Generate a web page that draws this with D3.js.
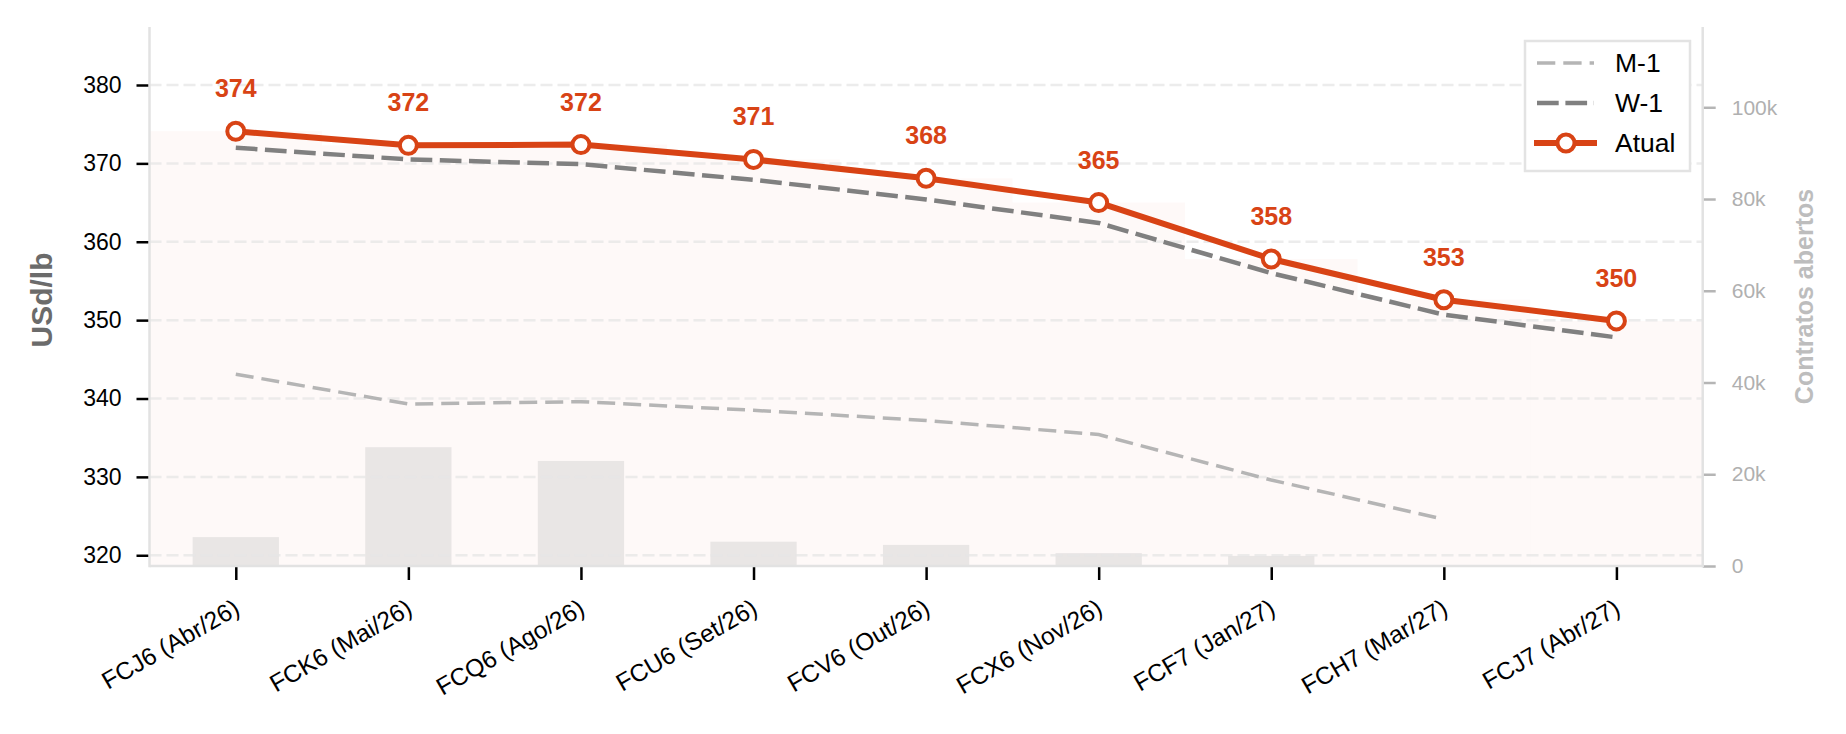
<!DOCTYPE html>
<html>
  <head>
    <meta charset="utf-8">
    <script src="https://d3js.org/d3.v7.min.js"></script>
    <style>
      body { margin: 0; background: #fff; }
      text { font-family: "Liberation Sans", Arial, sans-serif; }
    </style>
  </head>
  <body>
    <div id="chart"></div>
    <script>
      // contratos e valores
      var categories = ["FCJ6 (Abr/26)", "FCK6 (Mai/26)", "FCQ6 (Ago/26)", "FCU6 (Set/26)", "FCV6 (Out/26)",
                        "FCX6 (Nov/26)", "FCF7 (Jan/27)", "FCH7 (Mar/27)", "FCJ7 (Abr/27)"];
      var atual = [374.1, 372.3, 372.4, 370.5, 368.1, 365.0, 357.8, 352.6, 349.9];
      var w1 = [372.0, 370.5, 369.9, 367.9, 365.4, 362.4, 356.0, 350.7, 347.8];
      var m1 = [343.1, 339.3, 339.6, 338.5, 337.2, 335.4, 329.6, 324.6, null];
      var openInt = [6300, 25900, 22900, 5300, 4600, 2800, 2200, 0, 0];
      var leftTicks = [320, 330, 340, 350, 360, 370, 380];
      var rightTicks = [0, 20000, 40000, 60000, 80000, 100000];

      var width = 1846, height = 734;
      var plot = {left: 149.5, right: 1702.7, top: 27, bottom: 566};
      var orange = "#D84315";

      var svg = d3.select("#chart").append("svg")
        .attr("width", width)
        .attr("height", height);

      var x = d3.scaleLinear().domain([-0.5, categories.length - 0.5]).range([plot.left, plot.right]);
      var y = d3.scaleLinear().domain([318.63, 387.4]).range([plot.bottom, plot.top]);
      var y2 = d3.scaleLinear().domain([0, 117500]).range([plot.bottom, plot.top]);

      // faixa sombreada (degraus sob a curva atual)
      svg.append("g").selectAll("rect")
        .data(atual)
        .enter().append("rect")
          .attr("x", function(d, i) { return x(i - 0.5); })
          .attr("width", x(1) - x(0))
          .attr("y", function(d) { return y(d); })
          .attr("height", function(d) { return plot.bottom - y(d); })
          .attr("fill", orange)
          .attr("fill-opacity", 0.03);

      // barras de contratos abertos
      svg.append("g").selectAll("rect")
        .data(openInt)
        .enter().append("rect")
          .attr("x", function(d, i) { return x(i - 0.25); })
          .attr("width", (x(1) - x(0)) * 0.5)
          .attr("y", function(d) { return y2(d); })
          .attr("height", function(d) { return plot.bottom - y2(d); })
          .attr("fill", "#e9e6e5");

      // grade
      svg.append("g").selectAll("line")
        .data(leftTicks)
        .enter().append("line")
          .attr("x1", plot.left).attr("x2", plot.right)
          .attr("y1", function(d) { return y(d); })
          .attr("y2", function(d) { return y(d); })
          .attr("stroke", "#e6e6e6")
          .attr("stroke-opacity", 0.75)
          .attr("stroke-width", 2.5)
          .attr("stroke-dasharray", "12,5");

      // eixo esquerdo
      var yAxis = svg.append("g")
        .attr("transform", "translate(" + plot.left + ",0)")
        .call(d3.axisLeft(y).tickValues(leftTicks).tickSize(13).tickPadding(15));
      yAxis.select(".domain").remove();
      yAxis.selectAll(".tick line").attr("stroke", "#000").attr("stroke-width", 2.5);
      yAxis.selectAll(".tick text").attr("font-size", 23).attr("fill", "#000")
        .attr("font-family", "Liberation Sans, Arial, sans-serif");

      // eixo direito
      var y2Axis = svg.append("g")
        .attr("transform", "translate(" + plot.right + ",0)")
        .call(d3.axisRight(y2).tickValues(rightTicks).tickSize(13).tickPadding(16)
          .tickFormat(function(d) { return d === 0 ? "0" : (d / 1000) + "k"; }));
      y2Axis.select(".domain").remove();
      y2Axis.selectAll(".tick line").attr("stroke", "#b5b5b5").attr("stroke-width", 2.5);
      y2Axis.selectAll(".tick text").attr("font-size", 21).attr("fill", "#b0b0b0")
        .attr("font-family", "Liberation Sans, Arial, sans-serif");

      // eixo x
      var xAxis = svg.append("g")
        .attr("transform", "translate(0," + plot.bottom + ")")
        .call(d3.axisBottom(x).tickValues(d3.range(categories.length)).tickSize(14)
          .tickFormat(function(i) { return categories[i]; }));
      xAxis.select(".domain").remove();
      xAxis.selectAll(".tick line").attr("stroke", "#000").attr("stroke-width", 2.5);
      xAxis.selectAll(".tick text")
        .attr("font-size", 24.5).attr("fill", "#000")
        .attr("font-family", "Liberation Sans, Arial, sans-serif")
        .attr("text-anchor", "end")
        .attr("y", 0).attr("dy", 0)
        .attr("transform", "translate(5,47) rotate(-30)");

      // bordas
      var spine = "#e2e2e2";
      svg.append("line").attr("x1", plot.left).attr("x2", plot.left)
        .attr("y1", plot.top).attr("y2", plot.bottom + 1.2).attr("stroke", spine).attr("stroke-width", 2.5);
      svg.append("line").attr("x1", plot.right).attr("x2", plot.right)
        .attr("y1", plot.top).attr("y2", plot.bottom + 1.2).attr("stroke", spine).attr("stroke-width", 2.5);
      svg.append("line").attr("x1", plot.left).attr("x2", plot.right)
        .attr("y1", plot.bottom).attr("y2", plot.bottom).attr("stroke", spine).attr("stroke-width", 2.5);

      var line = d3.line()
        .defined(function(d) { return d != null; })
        .x(function(d, i) { return x(i); })
        .y(function(d) { return y(d); });

      svg.append("path").datum(m1)
        .attr("d", line).attr("fill", "none")
        .attr("stroke", "#b5b5b5").attr("stroke-width", 3.5)
        .attr("stroke-dasharray", "18,8");

      svg.append("path").datum(w1)
        .attr("d", line).attr("fill", "none")
        .attr("stroke", "#808080").attr("stroke-width", 4.5)
        .attr("stroke-dasharray", "21.7,7.5");

      svg.append("path").datum(atual)
        .attr("d", line).attr("fill", "none")
        .attr("stroke", orange).attr("stroke-width", 6)
        .attr("stroke-linejoin", "round");

      svg.append("g").selectAll("circle")
        .data(atual)
        .enter().append("circle")
          .attr("cx", function(d, i) { return x(i); })
          .attr("cy", function(d) { return y(d); })
          .attr("r", 8.5)
          .attr("fill", "#fff")
          .attr("stroke", orange)
          .attr("stroke-width", 4);

      svg.append("g").selectAll("text")
        .data(atual)
        .enter().append("text")
          .attr("x", function(d, i) { return x(i); })
          .attr("y", function(d) { return y(d) - 34; })
          .attr("text-anchor", "middle")
          .attr("font-size", 25)
          .attr("font-weight", "bold")
          .attr("fill", orange)
          .text(function(d) { return Math.round(d); });

      // rotulos dos eixos
      svg.append("text")
        .attr("transform", "translate(52,300) rotate(-90)")
        .attr("text-anchor", "middle")
        .attr("font-size", 30).attr("font-weight", "bold")
        .attr("fill", "#6b6b6b")
        .text("USd/lb");

      svg.append("text")
        .attr("transform", "translate(1813," + ((plot.top + plot.bottom) / 2) + ") rotate(-90)")
        .attr("text-anchor", "middle")
        .attr("font-size", 25).attr("font-weight", "bold")
        .attr("fill", "#bdbdbd")
        .text("Contratos abertos");

      // legenda
      var legend = svg.append("g");
      legend.append("rect")
        .attr("x", 1525).attr("y", 41)
        .attr("width", 165).attr("height", 130)
        .attr("fill", "#fff")
        .attr("stroke", "#e3e3e3").attr("stroke-width", 2.5);

      var legendItems = [
        {name: "M-1", color: "#b5b5b5", w: 3.5, dash: "18.3,8", x1: 1537, x2: 1594, marker: false},
        {name: "W-1", color: "#808080", w: 4.5, dash: "21.7,6.7", x1: 1537, x2: 1594, marker: false},
        {name: "Atual", color: orange, w: 6, dash: null, x1: 1534, x2: 1597, marker: true}
      ];
      legendItems.forEach(function(it, k) {
        var ly = 63 + k * 40;
        legend.append("line")
          .attr("x1", it.x1).attr("x2", it.x2)
          .attr("y1", ly).attr("y2", ly)
          .attr("stroke", it.color).attr("stroke-width", it.w)
          .attr("stroke-dasharray", it.dash);
        if (it.marker) {
          legend.append("circle").attr("cx", 1566).attr("cy", ly).attr("r", 8.5)
            .attr("fill", "#fff").attr("stroke", it.color).attr("stroke-width", 4);
        }
        legend.append("text")
          .attr("x", 1615).attr("y", ly)
          .attr("dy", "0.35em")
          .attr("font-size", 26.5)
          .attr("fill", "#000")
          .text(it.name);
      });
    </script>
  </body>
</html>
